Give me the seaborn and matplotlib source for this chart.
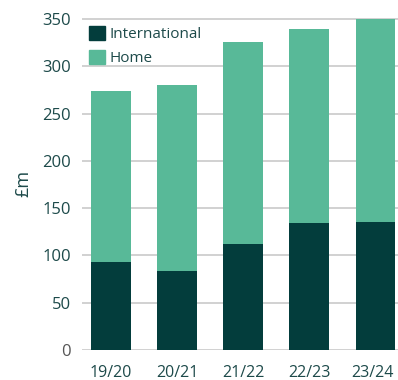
import matplotlib
matplotlib.use("Agg")
import matplotlib.pyplot as plt
from matplotlib.patches import Patch
from matplotlib.transforms import ScaledTranslation
import seaborn as sns
import pandas as pd

years = ["19/20", "20/21", "21/22", "22/23", "23/24"]
international = [93, 84, 112, 134, 135]
home = [181, 196, 214, 205, 215]
y_ticks = [0, 50, 100, 150, 200, 250, 300, 350]

DARK = "#033d3c"
LIGHT = "#58b998"
TEXT = "#1d4a4a"

sns.set_theme(style="white")
plt.rcParams["font.family"] = ["Open Sans", "DejaVu Sans"]

df = pd.DataFrame({
    "year": years,
    "International": international,
    "Home": home,
})
df["Total"] = df["International"] + df["Home"]

fig = plt.figure(figsize=(3.98, 3.80), dpi=100)
ax = fig.add_axes([0.206, 0.079, 0.80, 0.876])

# Stacked bars: totals in the light shade, international drawn over them
sns.barplot(data=df, x="year", y="Total", color=LIGHT, width=0.6,
            saturation=1, linewidth=0, edgecolor="none", ax=ax, zorder=3)
sns.barplot(data=df, x="year", y="International", color=DARK, width=0.6,
            saturation=1, linewidth=0, edgecolor="none", ax=ax, zorder=4)

ax.set_ylim(0, 352)
ax.set_xlim(-0.439, 4.378)
ax.set_yticks(y_ticks)
ax.set_yticklabels([str(v) for v in y_ticks])
for lbl in ax.get_yticklabels():
    lbl.set_color("#555555" if lbl.get_text() == "0" else TEXT)
ax.tick_params(axis="y", labelsize=12, length=0, pad=8)
ax.tick_params(axis="x", labelsize=11.5, length=0, pad=11, colors=TEXT)

# keep the last year label inside the canvas
last = ax.get_xticklabels()[-1]
last.set_transform(last.get_transform()
                   + ScaledTranslation(-3 / 100, 0, fig.dpi_scale_trans))

ax.grid(axis="y", color="#c9c9c9", linewidth=1.2, zorder=0)
ax.set_axisbelow(True)
for s in ax.spines.values():
    s.set_visible(False)

ax.set_xlabel("")
ax.set_ylabel("£m", fontsize=13, color=TEXT, labelpad=7)

handles = [Patch(color=DARK, label="International"),
           Patch(color=LIGHT, label="Home")]
leg = ax.legend(handles=handles, loc="upper left", bbox_to_anchor=(-0.01, 1.005),
                frameon=False, fontsize=11, handlelength=1.0, handleheight=1.0,
                handletextpad=0.3, labelspacing=0.5, borderaxespad=0.3)
for t in leg.get_texts():
    t.set_color(TEXT)

fig.savefig("out.png", dpi=100)
